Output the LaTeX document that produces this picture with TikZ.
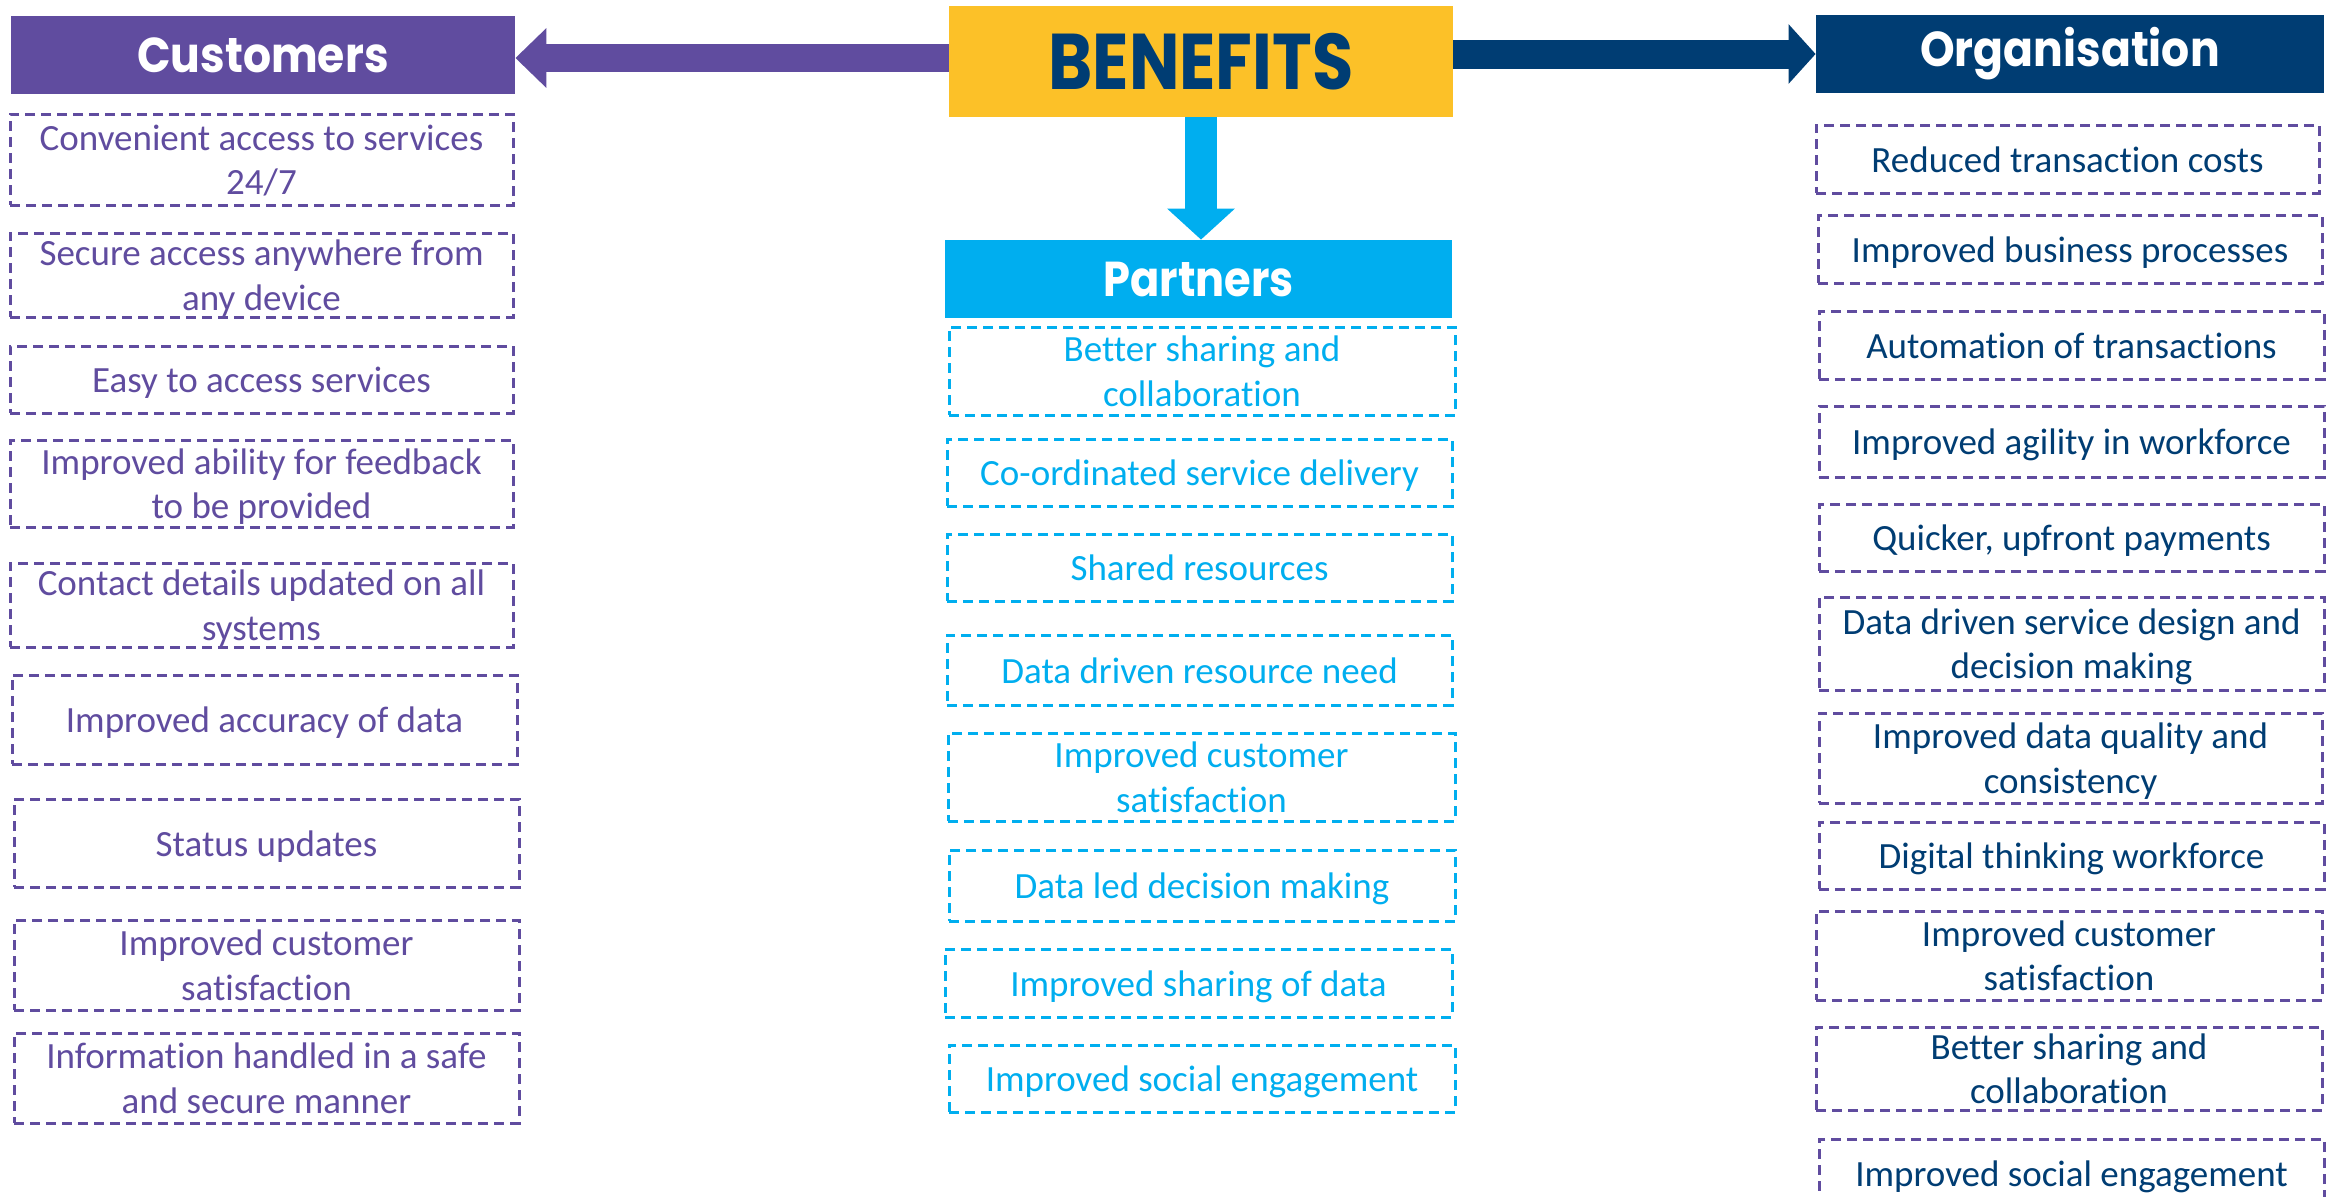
\documentclass[tikz,border=0pt]{standalone}
\usepackage{fontspec}
\setmainfont{Carlito}[Ligatures=NoCommon]
\newfontfamily\hdfont{Poppins}
\usetikzlibrary{arrows.meta}
\definecolor{cpurple}{RGB}{96,76,159}
\definecolor{cnavy}{RGB}{0,61,115}
\definecolor{ccyan}{RGB}{0,174,239}
\definecolor{cyellow}{RGB}{252,193,40}
\newcommand\bx[7]{%
  \pgfmathsetmacro\bxcx{(#2+#4)/2}%
  \pgfmathsetmacro\bxcy{(#3+#5)/2}%
  \pgfmathsetmacro\bxww{(#4-#2)*0.5}%
  \pgfmathsetmacro\bxhh{(#5-#3)*0.5}%
  \node[#6, minimum width=\bxww pt, minimum height=\bxhh pt] (#1) at (\bxcx,\bxcy) {#7};}
\tikzset{
  basebox/.style={dash pattern=on 5pt off 3pt, line width=1.5pt, align=center, inner sep=0pt,
    font=\fontsize{18.5}{22.3}\selectfont},
  cbox/.style={basebox, draw=cpurple, text=cpurple},
  pbox/.style={basebox, draw=ccyan, text=ccyan},
  obox/.style={basebox, draw=cpurple, text=cnavy},
  hdr/.style={inner sep=0pt, text=white, font=\hdfont\bfseries\fontsize{24.5}{28}\selectfont},
}
\newcommand\lowered[1]{\raisebox{-6.4pt}[0pt][0pt]{\begin{tabular}{@{}c@{}}#1\end{tabular}}}
\begin{document}
\begin{tikzpicture}[x=0.5pt,y=-0.5pt]
\clip (0,0) rectangle (2328,1196);
\fill[white] (0,0) rectangle (2328,1196);
% headers
\bx{cust}{11}{16}{515}{94}{hdr, fill=cpurple}{\scalebox{0.9}[1]{Customers}}
\bx{org}{1816}{15}{2324}{93}{hdr, fill=cnavy}{\scalebox{0.9}[1]{Organisation}}
\bx{part}{945}{240}{1452}{318}{hdr, fill=ccyan}{\scalebox{0.88}[1]{Partners}}
% arrows
\draw[cpurple, line width=14pt, -{Triangle[length=15.5pt, width=29pt]}] ([yshift=-1.5pt]949,55) coordinate (la) -- ([yshift=-1.5pt]cust.east);
\draw[cnavy, line width=14.5pt, -{Triangle[length=13.5pt, width=29pt]}] (1453,54) coordinate (ra) -- (org.west);
\bx{ben}{949}{6}{1453}{117}{inner sep=0pt, fill=cyellow, text=cnavy, font=\hdfont\bfseries\fontsize{39.5}{44}\selectfont}{\scalebox{0.85}[1]{BENEFITS}}
\draw[ccyan, line width=16pt, -{Triangle[length=15.5pt, width=33pt]}] (ben.south) -- (ben.south |- part.north);
% customers
\bx{c1}{10}{114}{513}{205}{cbox}{\lowered{Convenient access to services\\24/7}}
\bx{c2}{10}{233}{513}{317}{cbox}{\lowered{Secure access anywhere from\\any device}}
\bx{c3}{10}{346}{513}{413}{cbox}{\lowered{Easy to access services}}
\bx{c4}{10}{440}{513}{527}{cbox}{\lowered{Improved ability for feedback\\to be provided}}
\bx{c5}{10}{563}{513}{647}{cbox}{\lowered{Contact details updated on all\\systems}}
\bx{c6}{12}{675}{517}{764}{cbox}{\lowered{Improved accuracy of data}}
\bx{c7}{14}{799}{519}{887}{cbox}{\lowered{Status updates}}
\bx{c8}{14}{920}{519}{1010}{cbox}{\lowered{Improved customer\\satisfaction}}
\bx{c9}{14}{1033}{519}{1123}{cbox}{\lowered{Information handled in a safe\\and secure manner}}
% partners
\bx{p1}{949}{327}{1455}{415}{pbox}{\lowered{Better sharing and\\collaboration}}
\bx{p2}{947}{439}{1452}{506}{pbox}{\lowered{Co-ordinated service delivery}}
\bx{p3}{947}{534}{1452}{601}{pbox}{\lowered{Shared resources}}
\bx{p4}{947}{635}{1452}{705}{pbox}{\lowered{Data driven resource need}}
\bx{p5}{948}{733}{1455}{821}{pbox}{\lowered{Improved customer\\satisfaction}}
\bx{p6}{949}{850}{1455}{921}{pbox}{\lowered{Data led decision making}}
\bx{p7}{945}{949}{1452}{1017}{pbox}{\lowered{Improved sharing of data}}
\bx{p8}{949}{1045}{1455}{1112}{pbox}{\lowered{Improved social engagement}}
% organisation
\bx{o1}{1816}{125}{2319}{193}{obox}{\lowered{Reduced transaction costs}}
\bx{o2}{1818}{215}{2322}{283}{obox}{\lowered{Improved business processes}}
\bx{o3}{1819}{311}{2324}{379}{obox}{\lowered{Automation of transactions}}
\bx{o4}{1819}{406}{2324}{477}{obox}{\lowered{Improved agility in workforce}}
\bx{o5}{1819}{504}{2324}{571}{obox}{\lowered{Quicker, upfront payments}}
\bx{o6}{1819}{597}{2324}{690}{obox}{\lowered{Data driven service design and\\decision making}}
\bx{o7}{1819}{713}{2322}{803}{obox}{\lowered{Improved data quality and\\consistency}}
\bx{o8}{1819}{822}{2324}{889}{obox}{\lowered{Digital thinking workforce}}
\bx{o9}{1816}{911}{2322}{1000}{obox}{\lowered{Improved customer\\satisfaction}}
\bx{o10}{1816}{1027}{2322}{1110}{obox}{\lowered{Better sharing and\\collaboration}}
\bx{o11}{1819}{1139}{2324}{1207}{obox}{\lowered{Improved social engagement}}
\end{tikzpicture}
\end{document}
